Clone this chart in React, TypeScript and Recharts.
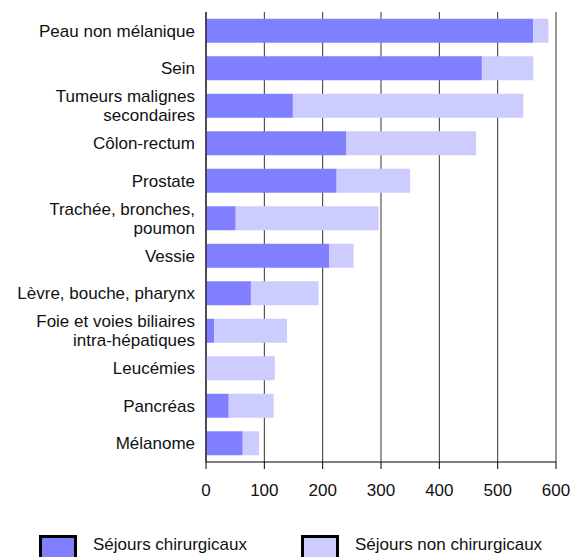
import React from "react";
import { BarChart, Bar, XAxis, YAxis, CartesianGrid } from "recharts";

const CATEGORIES = [
  "Peau non mélanique",
  "Sein",
  "Tumeurs malignes\nsecondaires",
  "Côlon-rectum",
  "Prostate",
  "Trachée, bronches,\npoumon",
  "Vessie",
  "Lèvre, bouche, pharynx",
  "Foie et voies biliaires\nintra-hépatiques",
  "Leucémies",
  "Pancréas",
  "Mélanome",
];

const SURGICAL = [561, 473, 149, 240, 224, 51, 211, 77, 14, 0, 39, 63];
const NON_SURGICAL = [26, 88, 395, 223, 126, 245, 42, 116, 125, 118, 77, 28];
const X_TICKS = [0, 100, 200, 300, 400, 500, 600];

const SERIES = [
  { key: "surgical", label: "Séjours chirurgicaux", color: "#8080ff" },
  { key: "nonSurgical", label: "Séjours non chirurgicaux", color: "#ccccff" },
];

const data = CATEGORIES.map((name, i) => ({
  name,
  surgical: SURGICAL[i],
  nonSurgical: NON_SURGICAL[i],
}));

const FONT = "'Liberation Sans', Arial, Helvetica, sans-serif";
const TEXT = "#111";

const CategoryTick = ({ x, y, payload }: any) => {
  const lines = String(payload.value).split("\n");
  const start = lines.length > 1 ? -9.5 : 0;
  return (
    <text x={x} y={y} textAnchor="end" fill={TEXT} fontSize={17} fontFamily={FONT}>
      {lines.map((line, i) => (
        <tspan key={i} x={x} dy={i === 0 ? start + 6 : 19}>
          {line}
        </tspan>
      ))}
    </text>
  );
};

export default function App() {
  return (
    <div
      style={{
        position: "absolute",
        left: 0,
        top: 0,
        width: 578,
        height: 557,
        background: "#fff",
        fontFamily: FONT,
        overflow: "hidden",
      }}
    >
      <BarChart
        width={578}
        height={510}
        data={data}
        layout="vertical"
        margin={{ top: 12, right: 22, left: 0, bottom: 8 }}
        barCategoryGap="18%"
      >
        <CartesianGrid horizontal={false} stroke="#333" strokeWidth={1} />
        <XAxis
          type="number"
          domain={[0, 600]}
          ticks={X_TICKS}
          height={40}
          axisLine={{ stroke: "#000" }}
          tickLine={{ stroke: "#000" }}
          tickSize={7}
          tickMargin={15}
          tick={{ fontSize: 17, fill: TEXT, fontFamily: FONT }}
        />
        <YAxis
          type="category"
          dataKey="name"
          width={206}
          axisLine={{ stroke: "#000" }}
          tickLine={false}
          tickSize={0}
          tickMargin={11}
          interval={0}
          tick={<CategoryTick />}
        />
        {SERIES.map((s) => (
          <Bar
            key={s.key}
            dataKey={s.key}
            stackId="a"
            fill={s.color}
            isAnimationActive={false}
          />
        ))}
      </BarChart>
      {SERIES.map((s, i) => (
        <div
          key={s.key}
          style={{
            position: "absolute",
            left: i === 0 ? 39 : 301,
            top: 535,
            display: "flex",
            alignItems: "flex-start",
          }}
        >
          <div
            style={{
              width: 32,
              height: 30,
              background: s.color,
              border: "3.5px solid #000",
            }}
          />
          <span
            style={{
              marginLeft: 16,
              fontSize: 17,
              color: TEXT,
              lineHeight: "20px",
            }}
          >
            {s.label}
          </span>
        </div>
      ))}
    </div>
  );
}
